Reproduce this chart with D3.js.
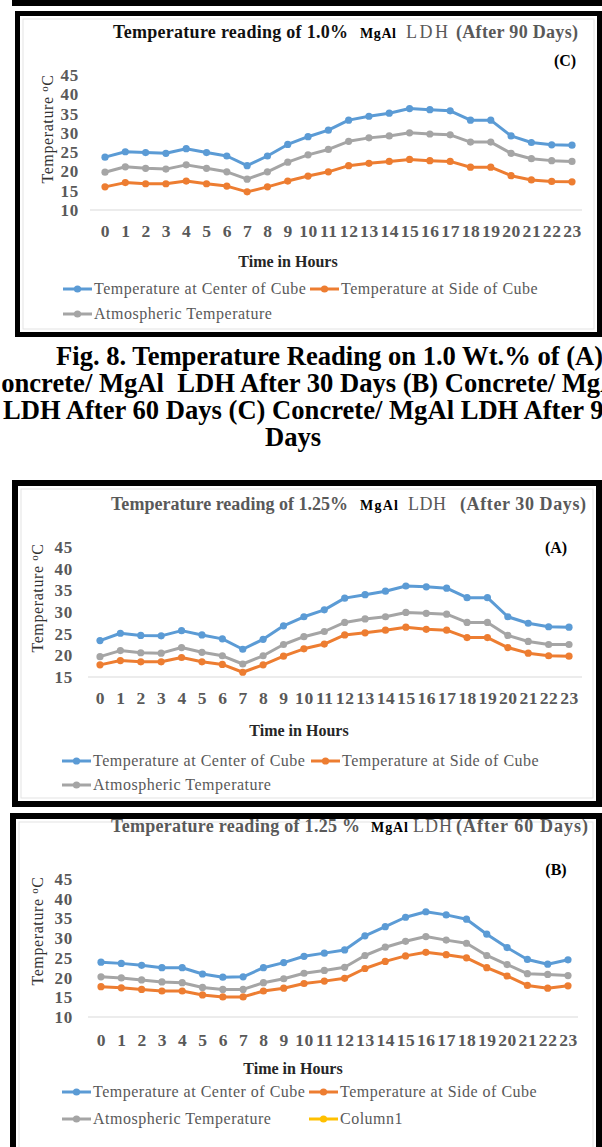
<!DOCTYPE html>
<html>
<head>
<meta charset="utf-8">
<script src="https://cdn.jsdelivr.net/npm/d3@7"></script>
<style>
  body { margin: 0; background: #fff; }
  svg { display: block; }
  text { font-family: "Liberation Serif", "Times New Roman", serif; white-space: pre; }
</style>
</head>
<body>
<script>
// ---- data -------------------------------------------------------------
const hours = ["0","1","2","3","4","5","6","7","8","9","10","11","12","13","14","15","16","17","18","19","20","21","22","23"];

const seriesNames = ["Temperature at Center of Cube", "Temperature at Side of Cube", "Atmospheric Temperature", "Column1"];
const seriesColors = ["#5B9BD5", "#ED7D31", "#A5A5A5", "#FFC000"];

// 1.0 % MgAl LDH, after 90 days (C)
const centerC90 = [23.7,25.1,24.9,24.7,25.9,24.9,24.0,21.5,24.0,27.0,29.0,30.7,33.3,34.3,35.1,36.3,36.0,35.7,33.3,33.3,29.2,27.5,26.9,26.8];
const sideC90   = [16.0,17.1,16.8,16.8,17.5,16.8,16.2,14.7,16.0,17.5,18.8,19.9,21.5,22.1,22.6,23.1,22.8,22.6,21.1,21.1,18.9,17.8,17.4,17.3];
const atmC90    = [19.8,21.2,20.8,20.6,21.7,20.8,19.9,18.0,19.9,22.4,24.3,25.7,27.8,28.7,29.2,30.0,29.7,29.5,27.6,27.6,24.7,23.3,22.8,22.6];
const ticksC90  = [10,15,20,25,30,35,40,45];

// 1.25 % MgAl LDH, after 30 days (A)
const centerA30 = [23.4,25.1,24.6,24.5,25.7,24.7,23.8,21.4,23.7,26.8,28.9,30.5,33.2,34.0,34.8,36.0,35.8,35.5,33.3,33.3,28.9,27.4,26.6,26.5];
const sideA30   = [17.8,18.8,18.5,18.5,19.5,18.5,17.9,16.1,17.8,19.8,21.5,22.6,24.7,25.2,25.8,26.5,26.0,25.8,24.1,24.1,21.8,20.5,19.9,19.8];
const atmA30    = [19.7,21.1,20.6,20.5,21.8,20.7,19.9,18.0,19.9,22.5,24.3,25.5,27.6,28.4,28.9,29.9,29.7,29.5,27.6,27.6,24.6,23.2,22.5,22.5];
const ticksA30  = [15,20,25,30,35,40,45];

// 1.25 % MgAl LDH, after 60 days (B)
const centerB60 = [23.9,23.6,23.1,22.5,22.5,20.9,20.1,20.2,22.5,23.8,25.4,26.2,27.0,30.6,32.9,35.3,36.7,35.9,34.8,31.0,27.6,24.6,23.4,24.5];
const sideB60   = [17.7,17.4,17.0,16.6,16.6,15.6,15.1,15.1,16.6,17.3,18.5,19.1,19.8,22.3,24.1,25.5,26.4,25.8,25.0,22.5,20.4,18.0,17.3,17.9];
const atmB60    = [20.2,19.9,19.4,18.9,18.7,17.5,17.0,17.0,18.7,19.7,21.1,21.8,22.6,25.6,27.7,29.2,30.4,29.5,28.7,25.6,23.3,21.0,20.8,20.5];
const column1   = [];
const ticksB60  = [10,15,20,25,30,35,40,45];

const captionLines = [
  "Fig. 8. Temperature Reading on 1.0 Wt.% of (A)",
  "Concrete/ MgAl  LDH After 30 Days (B) Concrete/ MgAl",
  "LDH After 60 Days (C) Concrete/ MgAl LDH After 90",
  "Days"
];

// ---- drawing ------------------------------------------------------------
const W = 602, H = 1147;
const svg = d3.select("body").append("svg").attr("width", W).attr("height", H);
svg.append("rect").attr("width", W).attr("height", H).attr("fill", "#fff");

// bottom edge of the frame above
svg.append("rect").attr("x", 12).attr("y", 0).attr("width", W - 12).attr("height", 6).attr("fill", "#000");

function frame(f) {
  const g = svg.append("g");
  g.append("rect").attr("x", f.x0 + f.t + 3).attr("y", f.y0 + f.t + 3)
    .attr("width", f.x1 - f.x0 - 2 * f.t - 6).attr("height", f.y1 - f.y0 - 2 * f.t - 6)
    .attr("fill", "none").attr("stroke", "#e3e3e3").attr("stroke-width", 1);
  g.append("rect").attr("x", f.x0).attr("y", f.y0).attr("width", f.x1 - f.x0).attr("height", f.t).attr("fill", "#000");
  g.append("rect").attr("x", f.x0).attr("y", f.y1 - f.t).attr("width", f.x1 - f.x0).attr("height", f.t).attr("fill", "#000");
  g.append("rect").attr("x", f.x0).attr("y", f.y0).attr("width", f.t).attr("height", f.y1 - f.y0).attr("fill", "#000");
  g.append("rect").attr("x", f.x1 - f.t).attr("y", f.y0).attr("width", f.t).attr("height", f.y1 - f.y0).attr("fill", "#000");
}

function drawPanel(p) {
  frame(p.frame);
  const g = svg.append("g");

  // title, drawn in pieces
  p.title.forEach(s => {
    g.append("text").attr("x", s.x).attr("y", p.titleY)
      .attr("font-size", s.size).attr("font-weight", s.weight).attr("fill", s.fill)
      .attr("textLength", s.w).attr("lengthAdjust", "spacing")
      .text(s.text);
  });

  g.append("text").attr("x", p.tag.x).attr("y", p.tag.y).attr("text-anchor", "middle")
    .attr("font-size", 16).attr("font-weight", "bold").attr("fill", "#000").text(p.tag.text);

  const x = d3.scalePoint().domain(hours).range(p.xRange).padding(0.5);
  const y = d3.scaleLinear().domain(p.yDomain).range(p.yRange);

  // baseline gridline
  g.append("line").attr("x1", p.gridX[0]).attr("x2", p.gridX[1])
    .attr("y1", y(p.yDomain[0])).attr("y2", y(p.yDomain[0]))
    .attr("stroke", "#d9d9d9").attr("stroke-width", 1.2);

  // y axis labels
  const yAxis = d3.axisLeft(y).tickValues(p.yTicks).tickSize(0).tickPadding(0);
  const ya = g.append("g").attr("transform", `translate(${p.yLabelX},0)`).call(yAxis);
  ya.select(".domain").remove();
  ya.selectAll("text").attr("font-size", 17)
    .attr("font-weight", "bold").attr("fill", "#595959").attr("letter-spacing", 0.8);

  // x axis labels
  const xAxis = d3.axisBottom(x).tickSize(0).tickPadding(0);
  const xa = g.append("g").attr("transform", `translate(0,${p.xLabelY})`).call(xAxis);
  xa.select(".domain").remove();
  xa.selectAll("text").attr("font-size", 17.5)
    .attr("font-weight", "bold").attr("fill", "#595959").attr("dy", 0).attr("letter-spacing", 0.6);

  // axis titles
  const yt = g.append("text")
    .attr("transform", `translate(${p.yTitle.x},${p.yTitle.y}) rotate(-90)`)
    .attr("text-anchor", "middle").attr("dy", "0.35em")
    .attr("font-size", 16).attr("fill", "#333").attr("letter-spacing", 0.6);
  yt.append("tspan").text("Temperature ");
  yt.append("tspan").attr("font-size", 11).attr("baseline-shift", "45%").text("o");
  yt.append("tspan").text("C");

  g.append("text").attr("x", p.xTitleX).attr("y", p.xTitleY).attr("text-anchor", "middle")
    .attr("font-size", 16).attr("font-weight", "bold").attr("fill", "#262626").text("Time in Hours");

  // series
  const line = d3.line().x((d, i) => x(hours[i])).y(d => y(d));
  p.series.forEach((s, k) => {
    if (!s.length) return;
    g.append("path").datum(s).attr("d", line).attr("fill", "none")
      .attr("stroke", seriesColors[k]).attr("stroke-width", 3).attr("stroke-linejoin", "round");
    g.selectAll(null).data(s).enter().append("circle")
      .attr("cx", (d, i) => x(hours[i])).attr("cy", d => y(d)).attr("r", 3.6)
      .attr("fill", seriesColors[k]);
  });

  // legend
  p.series.forEach((s, k) => {
    const lx = p.legendCols[k % 2], ly = p.legendRows[Math.floor(k / 2)];
    const lg = g.append("g");
    lg.append("line").attr("x1", lx).attr("x2", lx + 29).attr("y1", ly).attr("y2", ly)
      .attr("stroke", seriesColors[k]).attr("stroke-width", 3);
    lg.append("circle").attr("cx", lx + 14.5).attr("cy", ly).attr("r", 3.6).attr("fill", seriesColors[k]);
    lg.append("text").attr("x", lx + 31).attr("y", ly).attr("dy", "0.33em")
      .attr("font-size", 16).attr("fill", "#595959").attr("letter-spacing", 0.5)
      .text(seriesNames[k]);
  });
}

// panel (C)
drawPanel({
  frame: { x0: 15, y0: 11, x1: 602, y1: 337, t: 5 },
  titleY: 38,
  title: [
    { text: "Temperature reading of 1.0%", x: 113, w: 235, size: 18, weight: "bold", fill: "#111" },
    { text: "MgAl", x: 360, w: 36, size: 14, weight: "bold", fill: "#000" },
    { text: "LDH", x: 406, w: 42, size: 18, weight: "normal", fill: "#595959" },
    { text: "(After 90 Days)", x: 456, w: 122, size: 18, weight: "bold", fill: "#595959" }
  ],
  tag: { text: "(C)", x: 565, y: 66 },
  xRange: [94.85, 582.15], gridX: [90, 582],
  yDomain: [10, 45], yRange: [210, 75], yTicks: ticksC90, yLabelX: 79,
  yTitle: { x: 47, y: 129 },
  xLabelY: 237, xTitleX: 288, xTitleY: 267,
  legendCols: [63, 310], legendRows: [289, 314],
  series: [centerC90, sideC90, atmC90]
});

// caption (lines run past the page edges)
const cap = svg.append("g").attr("font-size", 26.6).attr("font-weight", "bold").attr("fill", "#000");
cap.append("text").attr("x", 56).attr("y", 365).text(captionLines[0]);
cap.append("text").attr("x", -18).attr("y", 392).text(captionLines[1]);
cap.append("text").attr("x", 3).attr("y", 419).text(captionLines[2]);
cap.append("text").attr("x", 293).attr("y", 446).attr("text-anchor", "middle").text(captionLines[3]);

// panel (A)
drawPanel({
  frame: { x0: 12, y0: 480, x1: 602, y1: 807, t: 6 },
  titleY: 510,
  title: [
    { text: "Temperature reading of 1.25%", x: 111, w: 237, size: 18, weight: "bold", fill: "#595959" },
    { text: "MgAl", x: 360, w: 38, size: 14, weight: "bold", fill: "#000" },
    { text: "LDH", x: 408, w: 38, size: 18, weight: "normal", fill: "#595959" },
    { text: "(After 30 Days)", x: 460, w: 126, size: 18, weight: "bold", fill: "#595959" }
  ],
  tag: { text: "(A)", x: 556, y: 553 },
  xRange: [89.8, 579.2], gridX: [88, 582],
  yDomain: [15, 45], yRange: [677, 547], yTicks: ticksA30, yLabelX: 73,
  yTitle: { x: 37, y: 598 },
  xLabelY: 704, xTitleX: 299, xTitleY: 736,
  legendCols: [62, 311], legendRows: [761, 785],
  series: [centerA30, sideA30, atmA30]
});

// panel (B)
drawPanel({
  frame: { x0: 10, y0: 813, x1: 602, y1: 1160, t: 6 },
  titleY: 832,
  title: [
    { text: "Temperature reading of 1.25 %", x: 111, w: 249, size: 18, weight: "bold", fill: "#595959" },
    { text: "MgAl", x: 371, w: 37, size: 14, weight: "bold", fill: "#000" },
    { text: "LDH", x: 413, w: 39, size: 18, weight: "normal", fill: "#595959" },
    { text: "(After 60 Days)", x: 456, w: 132, size: 18, weight: "bold", fill: "#595959" }
  ],
  tag: { text: "(B)", x: 556, y: 875 },
  xRange: [90.85, 578.15], gridX: [88, 578],
  yDomain: [10, 45], yRange: [1017, 879], yTicks: ticksB60, yLabelX: 73,
  yTitle: { x: 37, y: 931 },
  xLabelY: 1046, xTitleX: 293, xTitleY: 1074,
  legendCols: [62, 309], legendRows: [1092, 1119],
  series: [centerB60, sideB60, atmB60, column1]
});
</script>
</body>
</html>
